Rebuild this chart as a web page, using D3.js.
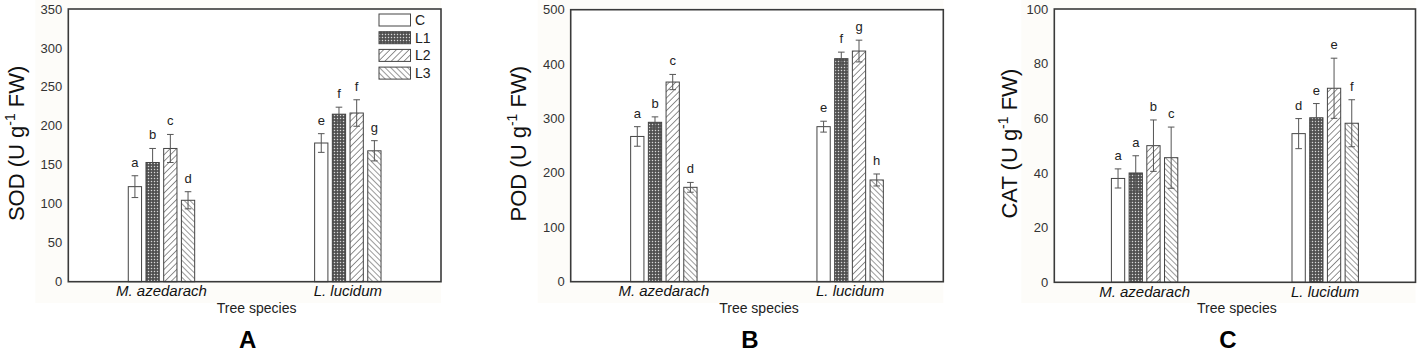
<!DOCTYPE html>
<html>
<head>
    <meta charset="utf-8">
    <title>SOD / POD / CAT</title>
    <script type="text/javascript" src="https://d3js.org/d3.v7.min.js"></script>
    <style>
        body { margin: 0; background: white; }
        .canvas { font-family: "Liberation Sans", Arial, sans-serif; background-color: white; }
    </style>
</head>
<body>
    <svg class="canvas" width="1417" height="355"></svg>
    <script type="text/javascript">
        // data (species-major: M. azedarach C,L1,L2,L3 then L. lucidum C,L1,L2,L3)
        const species = ["M. azedarach", "L. lucidum"]
        const treatments = ["C", "L1", "L2", "L3"]

        const sodMean = [122, 153, 171, 104.5, 178, 215, 216.5, 168]
        const sodErr = [14, 18, 18, 11, 12, 9, 17, 13]
        const sodLetters = ["a", "b", "c", "d", "e", "f", "f", "g"]

        const podMean = [267, 293, 367, 173.5, 285, 410, 424, 187]
        const podErr = [18, 10, 14, 9, 10, 12, 20, 11]
        const podLetters = ["a", "b", "c", "d", "e", "f", "g", "h"]

        const catMean = [38, 40, 50, 45.6, 54.4, 60.2, 71, 58.2]
        const catErr = [3.5, 6.3, 9.4, 11.2, 5.5, 5.2, 11, 8.6]
        const catLetters = ["a", "a", "b", "c", "d", "e", "e", "f"]

        const sodTicks = [0, 50, 100, 150, 200, 250, 300, 350]
        const podTicks = [0, 100, 200, 300, 400, 500]
        const catTicks = [0, 20, 40, 60, 80, 100]

        const svg = d3.select('.canvas')
        const ink = "#333"

        // hatch patterns
        const defs = svg.append('defs')
        const p1 = defs.append('pattern').attr('id', 'pL1').attr('patternUnits', 'userSpaceOnUse')
            .attr('width', 3).attr('height', 3)
        p1.append('rect').attr('width', 3).attr('height', 3).attr('fill', '#4a4a4a')
        p1.append('rect').attr('x', 0.8).attr('y', 0.8).attr('width', 1.4).attr('height', 1.4).attr('fill', '#d8d8d8')

        const p2 = defs.append('pattern').attr('id', 'pL2').attr('patternUnits', 'userSpaceOnUse')
            .attr('width', 4.5).attr('height', 4.5).attr('patternTransform', 'rotate(45)')
        p2.append('rect').attr('width', 4.5).attr('height', 4.5).attr('fill', 'white')
        p2.append('line').attr('x1', 0).attr('y1', 0).attr('x2', 0).attr('y2', 4.5)
            .attr('stroke', '#555').attr('stroke-width', 1.3)

        const p3 = defs.append('pattern').attr('id', 'pL3').attr('patternUnits', 'userSpaceOnUse')
            .attr('width', 4).attr('height', 4).attr('patternTransform', 'rotate(-45)')
        p3.append('rect').attr('width', 4).attr('height', 4).attr('fill', 'white')
        p3.append('line').attr('x1', 0).attr('y1', 0).attr('x2', 0).attr('y2', 4)
            .attr('stroke', '#555').attr('stroke-width', 1.2)

        const fills = { C: "white", L1: "url(#pL1)", L2: "url(#pL2)", L3: "url(#pL3)" }

        function panel(opt) {
            const g = svg.append('g')
            const left = opt.left, right = opt.right, top = opt.top, bottom = opt.bottom

            // faint scan background around the plot
            g.append('rect').attr('x', left - 33).attr('y', 0)
                .attr('width', right - left + 33).attr('height', 303).attr('fill', '#fdfcf9')
            g.append('rect').attr('x', left).attr('y', top)
                .attr('width', right - left).attr('height', bottom - top).attr('fill', 'white')

            const y = d3.scaleLinear().domain([0, opt.max]).range([bottom, top])
            const x0 = d3.scalePoint().domain(species).range([left, right]).padding(0.5)
            const x1 = d3.scaleBand().domain(treatments).range([-33.2, 33.2]).paddingInner(0.25)

            const rows = []
            species.forEach((s, i) => treatments.forEach((t, j) => {
                const k = i * 4 + j
                rows.push({ s: s, t: t, v: opt.mean[k], e: opt.err[k], l: opt.letters[k] })
            }))

            // tick labels (no tick marks)
            g.selectAll('.tick').data(opt.ticks).enter().append('text')
                .attr('x', left - 6).attr('y', d => y(d)).attr('dy', '0.35em')
                .attr('text-anchor', 'end').attr('font-size', 13).attr('fill', ink)
                .text(d => d)

            // bars
            g.selectAll('.bar').data(rows).enter().append('rect')
                .attr('x', d => x0(d.s) + x1(d.t)).attr('width', x1.bandwidth())
                .attr('y', d => y(d.v)).attr('height', d => bottom - y(d.v))
                .attr('fill', d => fills[d.t]).attr('stroke', '#444').attr('stroke-width', 1)

            // error bars
            const eb = g.selectAll('.err').data(rows).enter().append('g')
                .attr('stroke', '#555').attr('stroke-width', 1)
            const cx = d => x0(d.s) + x1(d.t) + x1.bandwidth() / 2
            eb.append('line').attr('x1', cx).attr('x2', cx)
                .attr('y1', d => y(d.v - d.e)).attr('y2', d => y(d.v + d.e))
            eb.append('line').attr('x1', d => cx(d) - 3.3).attr('x2', d => cx(d) + 3.3)
                .attr('y1', d => y(d.v + d.e)).attr('y2', d => y(d.v + d.e))
            eb.append('line').attr('x1', d => cx(d) - 3.3).attr('x2', d => cx(d) + 3.3)
                .attr('y1', d => y(d.v - d.e)).attr('y2', d => y(d.v - d.e))

            // significance letters
            g.selectAll('.sig').data(rows).enter().append('text')
                .attr('x', cx).attr('y', d => y(d.v + d.e) - 9)
                .attr('text-anchor', 'middle').attr('font-size', 13).attr('fill', '#222')
                .text(d => d.l)

            // frame
            g.append('rect').attr('x', left).attr('y', top)
                .attr('width', right - left).attr('height', bottom - top)
                .attr('fill', 'none').attr('stroke', '#3a3a3a').attr('stroke-width', 1.6)

            // category labels
            g.selectAll('.cat').data(species).enter().append('text')
                .attr('x', d => x0(d)).attr('y', bottom + 14.5)
                .attr('text-anchor', 'middle').attr('font-size', 15).attr('font-style', 'italic')
                .attr('fill', '#111').text(d => d)

            g.append('text').attr('x', (left + right) / 2 + 2).attr('y', 313)
                .attr('text-anchor', 'middle').attr('font-size', 14).attr('fill', '#222')
                .text('Tree species')

            // y title with superscript
            const yt = g.append('text')
                .attr('transform', `translate(${opt.titleX},${(top + bottom) / 2 - 2}) rotate(-90)`)
                .attr('text-anchor', 'middle').attr('font-size', 22).attr('fill', '#111')
            yt.append('tspan').text(opt.name + ' (U g')
            yt.append('tspan').attr('font-size', 14).attr('dy', -9).text('-1')
            yt.append('tspan').attr('dy', 9).text(' FW)')

            // panel letter
            g.append('text').attr('x', (left + right) / 2 - 7).attr('y', 348)
                .attr('text-anchor', 'middle').attr('font-size', 24).attr('font-weight', 'bold')
                .attr('fill', '#000').text(opt.panel)

            if (opt.legend) {
                const lg = g.append('g')
                treatments.forEach((t, i) => {
                    const ry = top + 5 + i * 17.7
                    lg.append('rect').attr('x', right - 62).attr('y', ry)
                        .attr('width', 31.5).attr('height', 12)
                        .attr('fill', fills[t]).attr('stroke', '#444').attr('stroke-width', 1)
                    lg.append('text').attr('x', right - 26).attr('y', ry + 6).attr('dy', '0.35em')
                        .attr('font-size', 14).attr('fill', '#222').text(t)
                })
            }
        }

        panel({ name: 'SOD', panel: 'A', mean: sodMean, err: sodErr, letters: sodLetters, ticks: sodTicks, max: 350,
            left: 68.3, right: 441, top: 9, bottom: 281.7, titleX: 24, legend: true })
        panel({ name: 'POD', panel: 'B', mean: podMean, err: podErr, letters: podLetters, ticks: podTicks, max: 500,
            left: 570.7, right: 943.3, top: 9.7, bottom: 281.7, titleX: 526 })
        panel({ name: 'CAT', panel: 'C', mean: catMean, err: catErr, letters: catLetters, ticks: catTicks, max: 100,
            left: 1054.3, right: 1415.5, top: 9, bottom: 282.3, titleX: 1017 })
    </script>
</body>
</html>
